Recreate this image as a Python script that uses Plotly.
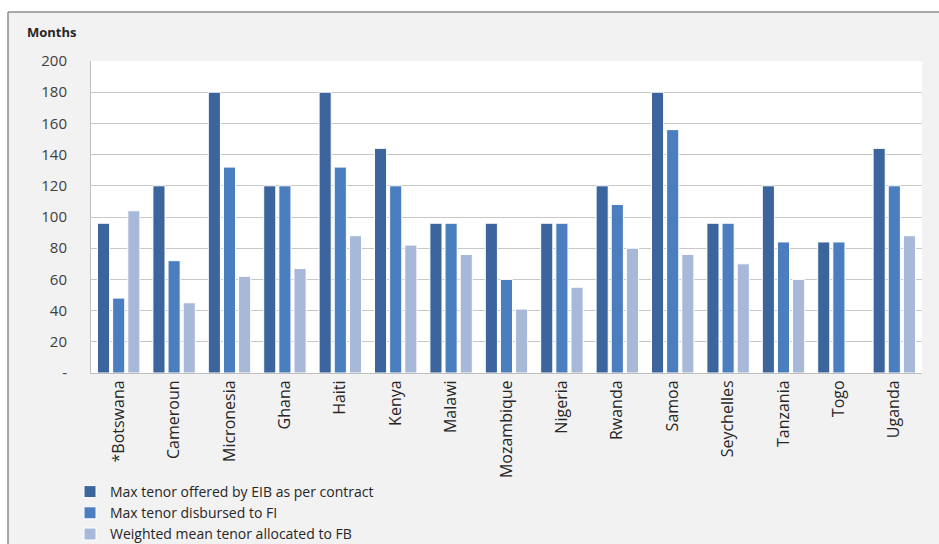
import plotly.graph_objects as go

countries = ["*Botswana", "Cameroun", "Micronesia", "Ghana", "Haiti", "Kenya", "Malawi",
             "Mozambique", "Nigeria", "Rwanda", "Samoa", "Seychelles", "Tanzania", "Togo", "Uganda"]
max_eib = [96, 120, 180, 120, 180, 144, 96, 96, 96, 120, 180, 96, 120, 84, 144]
max_fi = [48, 72, 132, 120, 132, 120, 96, 60, 96, 108, 156, 96, 84, 84, 120]
mean_fb = [104, 45, 62, 67, 88, 82, 76, 41, 55, 80, 76, 70, 60, None, 88]
series_names = ["Max tenor offered by EIB as per contract",
                "Max tenor disbursed to FI",
                "Weighted mean tenor allocated to FB"]
colors = ["#3b659c", "#4a7ebf", "#a7b8d8"]
y_ticks = [0, 20, 40, 60, 80, 100, 120, 140, 160, 180, 200]
y_tick_text = ["-", "20", "40", "60", "80", "100", "120", "140", "160", "180", "200"]

FONT = "'Open Sans', sans-serif"

fig = go.Figure()
for name, vals, col in zip(series_names, [max_eib, max_fi, mean_fb], colors):
    fig.add_trace(go.Bar(x=countries, y=vals, name=name,
                         marker=dict(color=col, line=dict(color="white", width=1))))

L, R, T, B = 91, 17, 61, 171
W, H = 939, 544
pw, ph = W - L - R, H - T - B

def px_x(px):
    return (px - L) / pw

def px_y(py):
    return (H - B - py) / ph

fig.update_layout(
    width=W, height=H,
    margin=dict(l=L, r=R, t=T, b=B, autoexpand=False),
    paper_bgcolor="#f2f2f2",
    plot_bgcolor="white",
    barmode="group",
    bargap=0.18,
    bargroupgap=0.2,
    font=dict(family=FONT, size=15, color="#404040"),
    showlegend=True,
    legend=dict(xref="container", yref="container",
                x=70 / W, y=1 - 476 / H, xanchor="left", yanchor="top",
                orientation="v", bgcolor="rgba(0,0,0,0)",
                font=dict(size=14, color="#262626", family=FONT),
                tracegroupgap=0, itemwidth=30),
    xaxis=dict(tickangle=-90, showgrid=False, showline=True, linecolor="#bfbfbf",
               ticks="", tickfont=dict(size=16, color="#262626"), automargin=False),
    yaxis=dict(range=[0, 200], tickvals=y_ticks, ticktext=y_tick_text,
               showgrid=True, gridcolor="#c8c8c8", gridwidth=1,
               showline=True, linecolor="#bfbfbf", zeroline=False,
               ticks="", ticklabelstandoff=20, tickfont=dict(size=15, color="#404040"),
               automargin=False),
    annotations=[dict(text="<b>Months</b>", xref="paper", yref="paper",
                      x=px_x(25), y=px_y(32), xanchor="left", yanchor="middle",
                      showarrow=False, font=dict(size=13, color="#262626", family=FONT))],
    shapes=[
        dict(type="rect", xref="paper", yref="paper", x0=px_x(-5), x1=px_x(945),
             y0=px_y(12), y1=px_y(-5), fillcolor="white", line=dict(width=0), layer="above"),
        dict(type="rect", xref="paper", yref="paper", x0=px_x(-5), x1=px_x(8),
             y0=px_y(550), y1=px_y(-5), fillcolor="white", line=dict(width=0), layer="above"),
        dict(type="line", xref="paper", yref="paper", x0=px_x(8), x1=px_x(945),
             y0=px_y(12), y1=px_y(12), line=dict(color="#8c8c8c", width=1.5)),
        dict(type="line", xref="paper", yref="paper", x0=px_x(8), x1=px_x(8),
             y0=px_y(12), y1=px_y(550), line=dict(color="#8c8c8c", width=1.5)),
    ],
)

fig.write_html("out.html")
